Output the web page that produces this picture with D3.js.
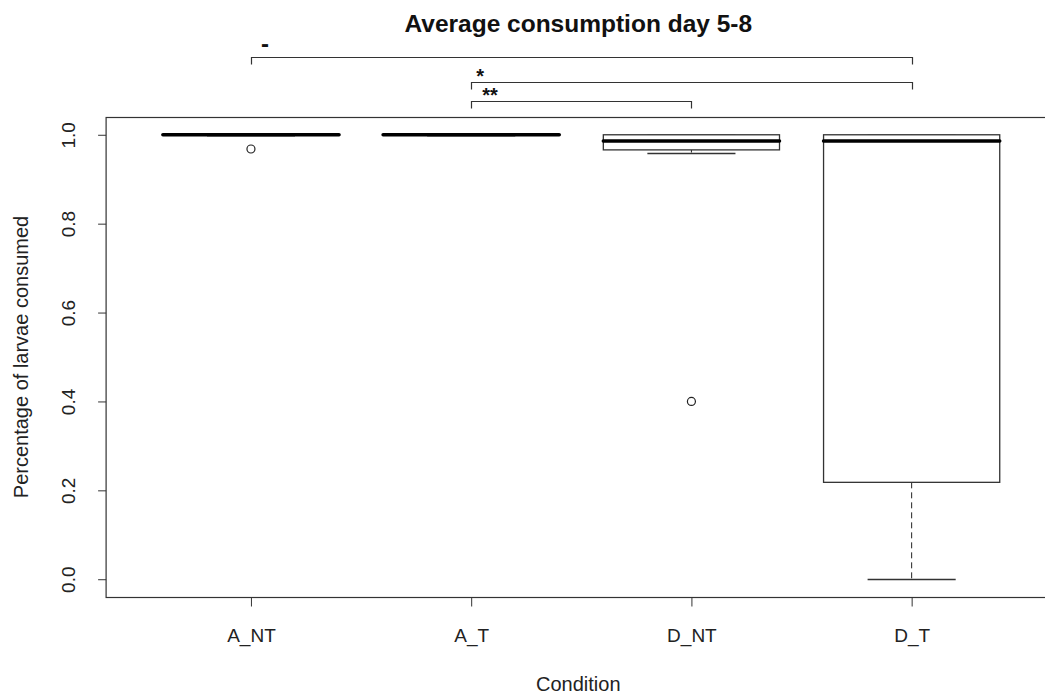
<!DOCTYPE html>
<html>
<head>
<meta charset="utf-8">
<script src="https://cdn.jsdelivr.net/npm/d3@7"></script>
<style>
  body { margin: 0; background: #fff; }
  text { font-family: Arial, "Liberation Sans", sans-serif; }
</style>
</head>
<body>
<svg id="chart" width="1045" height="698"></svg>
<script>
// boxplot stats per condition
var categories = ["A_NT", "A_T", "D_NT", "D_T"];
var lowerWhisker = [1.0, 1.0, 0.96, 0.0];
var q1 = [1.0, 1.0, 0.966, 0.218];
var medians = [1.0, 1.0, 0.986, 0.986];
var q3 = [1.0, 1.0, 1.0, 1.0];
var upperWhisker = [1.0, 1.0, 1.0, 1.0];
var outlierCat = ["A_NT", "D_NT"];
var outlierVal = [0.968, 0.4];

// significance brackets
var bracketFrom = ["A_NT", "A_T", "A_T"];
var bracketTo = ["D_T", "D_T", "D_NT"];
var bracketLevel = [1.174, 1.119, 1.075];
var bracketLabel = ["-", "*", "**"];

var svg = d3.select("#chart");

var x = d3.scaleLinear().domain([0.34, 4.66]).range([105.6, 1057]);
var y = d3.scaleLinear().domain([-0.04, 1.04]).range([597, 117]);
var pos = function(c) { return x(categories.indexOf(c) + 1); };

var boxHalf = x(1.4) - x(1);
var capHalf = boxHalf / 2;

// plot frame
svg.append("rect")
  .attr("x", x(0.34) + 0.5).attr("y", y(1.04) + 0.5)
  .attr("width", x(4.66) - x(0.34)).attr("height", y(-0.04) - y(1.04))
  .attr("fill", "none").attr("stroke", "#333").attr("stroke-width", 1.2);

// y axis
var yAxis = svg.append("g")
  .attr("transform", "translate(" + (x(0.34) + 0.5) + ",0)")
  .call(d3.axisLeft(y).tickValues([0, 0.2, 0.4, 0.6, 0.8, 1.0])
    .tickFormat(d3.format(".1f")).tickSize(8).tickSizeOuter(0));
yAxis.select(".domain").remove();
yAxis.selectAll(".tick line").attr("stroke", "#333");
// labels turned upright along the axis, centred on each tick
yAxis.selectAll(".tick text")
  .attr("font-size", 19).attr("fill", "#222")
  .attr("transform", "rotate(-90)")
  .attr("x", 0).attr("y", -36).attr("dy", 0)
  .attr("dominant-baseline", "middle")
  .attr("text-anchor", "middle");

// x axis
var xAxis = svg.append("g")
  .attr("transform", "translate(0," + (y(-0.04) + 0.5) + ")")
  .call(d3.axisBottom(x).tickValues([1, 2, 3, 4])
    .tickFormat(function(i) { return categories[i - 1]; })
    .tickSize(9).tickSizeOuter(0));
xAxis.select(".domain").remove();
xAxis.selectAll(".tick line").attr("stroke", "#333");
xAxis.selectAll(".tick text").attr("font-size", 19).attr("fill", "#222").attr("y", 31);

// boxes
var stats = categories.map(function(c, i) {
  return { cat: c, lo: lowerWhisker[i], q1: q1[i], med: medians[i], q3: q3[i], hi: upperWhisker[i] };
});

var box = svg.append("g").selectAll("g").data(stats).enter().append("g");

// whiskers (dashed)
box.append("line")
  .attr("x1", function(d) { return pos(d.cat); }).attr("x2", function(d) { return pos(d.cat); })
  .attr("y1", function(d) { return y(d.q1); }).attr("y2", function(d) { return y(d.lo); })
  .attr("stroke", "#222").attr("stroke-dasharray", "6,4");
box.append("line")
  .attr("x1", function(d) { return pos(d.cat); }).attr("x2", function(d) { return pos(d.cat); })
  .attr("y1", function(d) { return y(d.q3); }).attr("y2", function(d) { return y(d.hi); })
  .attr("stroke", "#222").attr("stroke-dasharray", "6,4");
// staples
box.append("line")
  .attr("x1", function(d) { return pos(d.cat) - capHalf; }).attr("x2", function(d) { return pos(d.cat) + capHalf; })
  .attr("y1", function(d) { return Math.round(y(d.lo)) + 0.5; }).attr("y2", function(d) { return Math.round(y(d.lo)) + 0.5; })
  .attr("stroke", "#333").attr("stroke-width", 1.3);
box.append("line")
  .attr("x1", function(d) { return pos(d.cat) - capHalf; }).attr("x2", function(d) { return pos(d.cat) + capHalf; })
  .attr("y1", function(d) { return Math.round(y(d.hi)) + 0.5; }).attr("y2", function(d) { return Math.round(y(d.hi)) + 0.5; })
  .attr("stroke", "#333").attr("stroke-width", 1.3);
// box body
box.append("rect")
  .attr("x", function(d) { return pos(d.cat) - boxHalf; })
  .attr("y", function(d) { return y(d.q3); })
  .attr("width", boxHalf * 2)
  .attr("height", function(d) { return y(d.q1) - y(d.q3); })
  .attr("fill", "#fff").attr("stroke", "#333").attr("stroke-width", 1.3);
// median
box.append("line")
  .attr("x1", function(d) { return pos(d.cat) - boxHalf; }).attr("x2", function(d) { return pos(d.cat) + boxHalf; })
  .attr("y1", function(d) { return y(d.med); }).attr("y2", function(d) { return y(d.med); })
  .attr("stroke", "#000").attr("stroke-width", 3.5).attr("stroke-linecap", "round");

// outliers
svg.append("g").selectAll("circle")
  .data(outlierVal)
  .enter().append("circle")
  .attr("cx", function(d, i) { return pos(outlierCat[i]); })
  .attr("cy", function(d) { return y(d); })
  .attr("r", 4)
  .attr("fill", "none").attr("stroke", "#222").attr("stroke-width", 1.2);

// brackets
var tickLen = 7;
var br = svg.append("g").selectAll("g").data(bracketLabel).enter().append("g");
br.append("path")
  .attr("d", function(d, i) {
    var x1 = Math.round(pos(bracketFrom[i])) + 0.5, x2 = Math.round(pos(bracketTo[i])) + 0.5;
    var yy = Math.round(y(bracketLevel[i])) + 0.5;
    return "M" + x1 + "," + (yy + tickLen) + "V" + yy + "H" + x2 + "V" + (yy + tickLen);
  })
  .attr("fill", "none").attr("stroke", "#333").attr("stroke-width", 1.2);
br.append("text")
  .attr("x", function(d, i) { return pos(bracketFrom[i]) + (d == "**" ? 11 : (d == "-" ? 10 : 5)); })
  .attr("y", function(d, i) { return y(bracketLevel[i]) + (d == "-" ? -5 : 1); })
  .attr("font-size", function(d) { return d == "-" ? 24 : 20; })
  .attr("font-weight", "bold")
  .attr("fill", "#111")
  .text(function(d) { return d; });

// titles
svg.append("text")
  .attr("x", (x(0.34) + x(4.66)) / 2 - 3).attr("y", 32)
  .attr("text-anchor", "middle")
  .attr("font-size", 24.5).attr("font-weight", "bold").attr("fill", "#111")
  .text("Average consumption day 5-8");

svg.append("text")
  .attr("x", (x(0.34) + x(4.66)) / 2 - 3).attr("y", 691)
  .attr("text-anchor", "middle")
  .attr("font-size", 20).attr("fill", "#222")
  .text("Condition");

svg.append("text")
  .attr("transform", "translate(28," + ((y(-0.04) + y(1.04)) / 2) + ") rotate(-90)")
  .attr("text-anchor", "middle")
  .attr("font-size", 20).attr("fill", "#222")
  .text("Percentage of larvae consumed");
</script>
</body>
</html>
